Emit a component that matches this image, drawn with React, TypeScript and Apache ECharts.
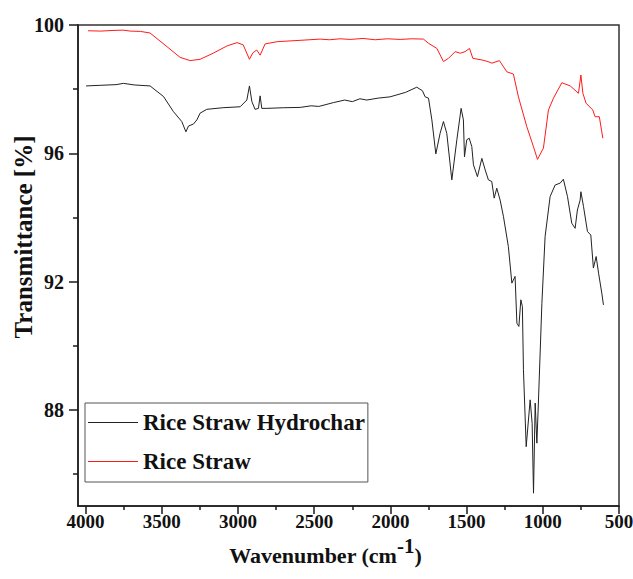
import React, { useEffect, useRef } from "react";
import * as echarts from "echarts";

// Rice Straw Hydrochar (black)
const hydrocharWN = [
  3997, 3900, 3800, 3752, 3680, 3577, 3489, 3424, 3369, 3342, 3325, 3293, 3270, 3249, 3205,
  3100, 2986, 2942, 2925, 2909, 2888, 2866, 2855, 2844, 2811, 2700, 2592, 2520, 2470, 2374,
  2300, 2250, 2200, 2155, 2080, 2002, 1900, 1827, 1790, 1772, 1750, 1728, 1702, 1674, 1652,
  1630, 1597, 1564, 1536, 1521, 1514, 1499, 1483, 1466, 1455, 1429, 1400, 1378, 1357, 1335,
  1319, 1302, 1280, 1258, 1226, 1203, 1182, 1170, 1157, 1144, 1134, 1127, 1109, 1083, 1070,
  1061, 1050, 1039, 1029, 1006, 985, 952, 919, 886, 865, 838, 810, 788, 773, 755, 750, 733,
  707, 685, 668, 650, 634, 613, 602,
];
const hydrocharT = [
  98.10, 98.12, 98.14, 98.18, 98.13, 98.10, 97.77, 97.30, 96.99, 96.67, 96.85, 96.91, 97.04,
  97.25, 97.37, 97.42, 97.45, 97.66, 98.10, 97.61, 97.37, 97.40, 97.79, 97.40, 97.40, 97.42,
  97.43, 97.48, 97.46, 97.58, 97.66, 97.61, 97.70, 97.66, 97.72, 97.76, 97.90, 98.06, 97.95,
  97.76, 97.72, 97.04, 95.98, 96.62, 96.99, 96.62, 95.17, 96.42, 97.40, 97.04, 95.89, 96.42,
  96.47, 96.21, 95.64, 95.27, 95.84, 95.48, 95.17, 95.12, 94.60, 94.91, 94.54, 94.02, 93.09,
  91.95, 92.16, 90.70, 90.60, 91.43, 91.22, 89.25, 86.85, 88.31, 87.58, 85.40, 88.21, 86.96,
  88.21, 91.32, 93.40, 94.65, 95.01, 95.07, 95.19, 94.65, 93.82, 93.66, 94.23, 94.54, 94.80,
  94.34, 93.56, 93.45, 92.42, 92.78, 92.26, 91.64, 91.27,
];

// Rice Straw (red)
const strawWN = [
  3984, 3900, 3820, 3754, 3708, 3640, 3577, 3465, 3380, 3314, 3249, 3163, 3071, 3006, 2966,
  2925, 2903, 2877, 2855, 2822, 2743, 2600, 2461, 2400, 2330, 2264, 2180, 2100, 2020, 1936,
  1860, 1783, 1750, 1695, 1652, 1619, 1575, 1542, 1510, 1481, 1459, 1400, 1360, 1334, 1285,
  1236, 1193, 1160, 1105, 1061, 1035, 996, 963, 930, 875, 820, 766, 750, 737, 716, 672, 657,
  629, 613, 606,
];
const strawT = [
  99.82, 99.81, 99.83, 99.84, 99.81, 99.80, 99.75, 99.32, 98.99, 98.89, 98.93, 99.12, 99.35,
  99.45, 99.38, 98.93, 99.13, 99.22, 99.06, 99.41, 99.48, 99.52, 99.56, 99.54, 99.57, 99.55,
  99.58, 99.54, 99.57, 99.55, 99.57, 99.56, 99.43, 99.27, 98.86, 98.96, 99.17, 99.12, 99.17,
  99.27, 98.96, 98.91, 98.86, 98.81, 98.89, 98.54, 98.47, 97.76, 96.83, 96.20, 95.81, 96.16,
  97.35, 97.72, 98.20, 98.10, 97.87, 98.44, 97.87, 97.56, 97.35, 97.14, 97.14, 96.67, 96.47,
];

const xMajorTicks = [500, 1000, 1500, 2000, 2500, 3000, 3500, 4000];
const xMinorTicks = [750, 1250, 1750, 2250, 2750, 3250, 3750];
const yMajorTicks = [88, 92, 96, 100];
const yMinorTicks = [86, 90, 94, 98];

const seriesNames = ["Rice Straw Hydrochar", "Rice Straw"];
const yTitle = "Transmittance [%]";

const FONT = "'Liberation Serif', 'Times New Roman', serif";

export default function App() {
  const ref = useRef<HTMLDivElement>(null);
  useEffect(() => {
    document.body.style.margin = "0";
    if (!ref.current) return;
    const chart = echarts.init(ref.current, null, { renderer: "svg" });
    const axisColor = "#1a1a1a";
    const hcData = hydrocharWN.map((w, i) => [w, hydrocharT[i]]);
    const rsData = strawWN.map((w, i) => [w, strawT[i]]);
    chart.setOption({
      animation: false,
      backgroundColor: "#ffffff",
      grid: {
        left: 78,
        right: 14,
        top: 25,
        bottom: 73,
        containLabel: false,
        outerBoundsMode: "none",
        show: true,
        borderColor: "#333",
        borderWidth: 1.5,
      },
      graphic: [
        {
          type: "text",
          x: 23,
          y: 237,
          rotation: Math.PI / 2,
          style: {
            text: yTitle,
            align: "center",
            verticalAlign: "middle",
            fontSize: 25,
            fontWeight: "bold",
            fontFamily: FONT,
            fill: "#111",
          },
        },
      ],
      xAxis: [
        {
          type: "value",
          min: 500,
          max: 4050,
          inverse: true,
          position: "bottom",
          axisLine: { show: true, onZero: false, lineStyle: { color: axisColor, width: 1.5 } },
          axisTick: {
            show: true,
            length: 8,
            customValues: xMajorTicks,
            lineStyle: { color: axisColor, width: 1.5 },
          },
          axisLabel: {
            customValues: xMajorTicks,
            formatter: (v: number) => String(v),
            fontSize: 19,
            fontWeight: "bold",
            fontFamily: FONT,
            color: "#111",
            margin: 6,
          },
          splitLine: { show: false },
          name: "{a|Wavenumber (cm}{s|-1}{a|)}",
          nameLocation: "middle",
          nameGap: 23,
          nameTextStyle: {
            padding: [0, 46, 0, 0],
            rich: {
              a: { fontSize: 22, fontWeight: "bold", fontFamily: FONT, color: "#111" },
              s: {
                fontSize: 21,
                fontWeight: "bold",
                fontFamily: FONT,
                color: "#111",
                padding: [0, 0, 18, 0],
              },
            },
          },
        },
        {
          type: "value",
          min: 500,
          max: 4050,
          inverse: true,
          position: "bottom",
          axisLine: { show: false, onZero: false },
          axisTick: {
            show: true,
            length: 4,
            customValues: xMinorTicks,
            lineStyle: { color: axisColor, width: 1.5 },
          },
          axisLabel: { show: false },
          splitLine: { show: false },
        },
      ],
      yAxis: [
        {
          type: "value",
          min: 85,
          max: 100,
          position: "left",
          axisLine: { show: true, onZero: false, lineStyle: { color: axisColor, width: 1.5 } },
          axisTick: {
            show: true,
            length: 9,
            customValues: yMajorTicks,
            lineStyle: { color: axisColor, width: 1.5 },
          },
          axisLabel: {
            customValues: yMajorTicks,
            formatter: (v: number) => String(v),
            fontSize: 20,
            fontWeight: "bold",
            fontFamily: FONT,
            color: "#111",
            margin: 14,
          },
          splitLine: { show: false },
        },
        {
          type: "value",
          min: 85,
          max: 100,
          position: "left",
          axisLine: { show: false, onZero: false },
          axisTick: {
            show: true,
            length: 5,
            customValues: yMinorTicks,
            lineStyle: { color: axisColor, width: 1.5 },
          },
          axisLabel: { show: false },
          splitLine: { show: false },
        },
      ],
      legend: {
        orient: "vertical",
        left: 85,
        top: 403,
        icon: "rect",
        itemWidth: 50,
        itemHeight: 1.2,
        itemGap: 16,
        padding: [8, 3, 9, 3],
        borderColor: "#555",
        borderWidth: 1,
        textStyle: { fontSize: 23, fontWeight: "bold", fontFamily: FONT, color: "#111" },
        data: seriesNames,
      },
      series: [
        {
          name: seriesNames[0],
          type: "line",
          data: hcData,
          xAxisIndex: 0,
          yAxisIndex: 0,
          symbol: "none",
          showSymbol: false,
          lineStyle: { color: "#222", width: 1 },
          itemStyle: { color: "#222" },
        },
        {
          name: seriesNames[1],
          type: "line",
          data: rsData,
          xAxisIndex: 0,
          yAxisIndex: 0,
          symbol: "none",
          showSymbol: false,
          lineStyle: { color: "#ff1a1a", width: 1 },
          itemStyle: { color: "#ff1a1a" },
        },
      ],
    });
    return () => chart.dispose();
  }, []);
  return <div ref={ref} style={{ width: 633, height: 579 }} />;
}
